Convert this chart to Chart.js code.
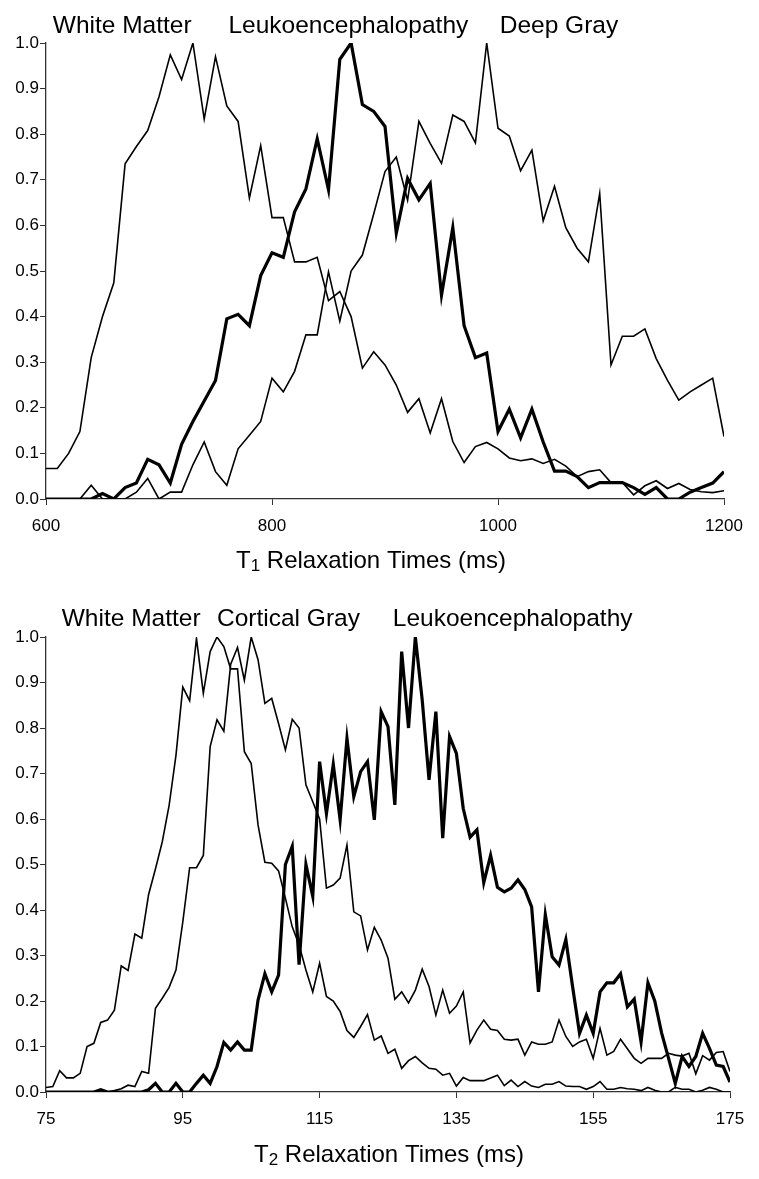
<!DOCTYPE html>
<html>
<head>
<meta charset="utf-8">
<script src="https://cdn.jsdelivr.net/npm/chart.js@4.4.0/dist/chart.umd.min.js"></script>
<style>
  html, body { margin: 0; padding: 0; background: #fff; }
  .box { position: absolute; left: 0; width: 759px; }
  #t1box { top: 0; height: 590px; }
  #t2box { top: 590px; height: 589px; }
</style>
</head>
<body>
<div class="box" id="t1box"><canvas id="t1" width="759" height="590"></canvas></div>
<div class="box" id="t2box"><canvas id="t2" width="759" height="589"></canvas></div>
<script>
// T1 histograms (ms, normalised counts)
const t1Times = [600,610,620,630,640,650,660,670,680,690,
    700,710,720,730,740,750,760,770,780,790,
    800,810,820,830,840,850,860,870,880,890,
    900,910,920,930,940,950,960,970,980,990,
    1000,1010,1020,1030,1040,1050,1060,1070,1080,1090,
    1100,1110,1120,1130,1140,1150,1160,1170,1180,1190,1200];
const t1White = [0.067,0.067,0.10,0.148,0.31,0.40,0.474,0.735,0.773,0.808,
    0.882,0.974,0.92,1.0,0.833,0.97,0.862,0.828,0.66,0.775,
    0.617,0.617,0.52,0.52,0.53,0.435,0.455,0.40,0.287,0.323,
    0.294,0.25,0.19,0.22,0.145,0.22,0.126,0.08,0.115,0.124,
    0.11,0.09,0.084,0.088,0.078,0.087,0.072,0.049,0.06,0.064,
    0.036,0.036,0.009,0.029,0.04,0.023,0.034,0.021,0.016,0.014,0.018];
const t1Leuko = [0,0,0,0,0,0.012,0,0.025,0.035,0.087,
    0.075,0.035,0.12,0.17,0.215,0.26,0.395,0.405,0.38,0.49,
    0.54,0.53,0.63,0.68,0.79,0.678,0.964,1.0,0.865,0.85,
    0.817,0.583,0.703,0.656,0.692,0.447,0.595,0.38,0.31,0.32,
    0.148,0.197,0.134,0.197,0.125,0.061,0.061,0.049,0.025,0.036,
    0.036,0.036,0.025,0.01,0.025,0,0,0.015,0.025,0.035,0.06];
const t1Deep = [0,0,0,0,0.03,0,0,0,0.015,0.045,
    0,0.015,0.015,0.075,0.125,0.06,0.03,0.11,0.14,0.17,
    0.265,0.235,0.28,0.36,0.36,0.498,0.39,0.50,0.535,0.625,
    0.718,0.75,0.655,0.828,0.78,0.736,0.842,0.828,0.781,1.0,
    0.813,0.796,0.72,0.765,0.61,0.686,0.595,0.55,0.52,0.67,
    0.294,0.357,0.357,0.373,0.308,0.26,0.217,0.235,0.25,0.265,0.137];

// T2 histograms
const t2Times = [75,76,77,78,79,80,81,82,83,84,
    85,86,87,88,89,90,91,92,93,94,
    95,96,97,98,99,100,101,102,103,104,
    105,106,107,108,109,110,111,112,113,114,
    115,116,117,118,119,120,121,122,123,124,
    125,126,127,128,129,130,131,132,133,134,
    135,136,137,138,139,140,141,142,143,144,
    145,146,147,148,149,150,151,152,153,154,
    155,156,157,158,159,160,161,162,163,164,
    165,166,167,168,169,170,171,172,173,174,175];
const t2White = [0.01,0.012,0.047,0.031,0.031,0.041,0.10,0.107,0.153,0.158,
    0.18,0.277,0.267,0.347,0.338,0.434,0.49,0.55,0.63,0.74,
    0.89,0.86,0.997,0.876,0.968,1.0,0.979,0.93,0.93,0.748,
    0.722,0.587,0.505,0.503,0.486,0.426,0.363,0.323,0.268,0.22,
    0.283,0.21,0.2,0.177,0.135,0.12,0.144,0.17,0.114,0.123,
    0.085,0.094,0.052,0.069,0.078,0.064,0.052,0.05,0.037,0.041,
    0.013,0.032,0.025,0.025,0.025,0.031,0.037,0.014,0.026,0.012,
    0.023,0.013,0.01,0.017,0.017,0.023,0.013,0.012,0.012,0.006,
    0.012,0.023,0.006,0.006,0.01,0.007,0.006,0.003,0.01,0.004,
    0,0,0.01,0.006,0.006,0,0.004,0.01,0.006,0,0];
const t2Cortical = [0,0,0,0,0,0,0,0,0.005,0,
    0.003,0.007,0.015,0.012,0.045,0.041,0.184,0.206,0.23,0.268,
    0.374,0.493,0.493,0.52,0.759,0.818,0.793,0.94,0.977,0.905,
    1.0,0.95,0.854,0.865,0.81,0.752,0.819,0.8,0.675,0.638,
    0.6,0.448,0.455,0.47,0.543,0.396,0.387,0.312,0.362,0.334,
    0.294,0.204,0.22,0.196,0.224,0.27,0.232,0.169,0.224,0.173,
    0.189,0.22,0.108,0.136,0.158,0.138,0.135,0.116,0.114,0.116,
    0.081,0.11,0.105,0.105,0.11,0.158,0.122,0.1,0.11,0.116,
    0.074,0.14,0.081,0.089,0.116,0.095,0.074,0.063,0.074,0.074,
    0.074,0.085,0.081,0.079,0.085,0.04,0.08,0.07,0.087,0.089,0.045];
const t2Leuko = [0,0,0,0,0,0,0,0,0.005,0,
    0,0,0,0,0,0.005,0.019,0,0,0.019,
    0,0,0.019,0.037,0.019,0.056,0.109,0.092,0.11,0.092,
    0.092,0.202,0.26,0.22,0.257,0.5,0.54,0.28,0.5,0.43,
    0.726,0.612,0.72,0.598,0.777,0.649,0.704,0.726,0.598,0.836,
    0.803,0.631,0.968,0.8,1.0,0.862,0.686,0.836,0.558,0.781,
    0.744,0.623,0.56,0.576,0.46,0.52,0.45,0.44,0.448,0.466,
    0.445,0.407,0.22,0.39,0.297,0.279,0.335,0.23,0.129,0.169,
    0.129,0.22,0.24,0.24,0.26,0.187,0.204,0.11,0.24,0.2,
    0.13,0.075,0.019,0.078,0.056,0.078,0.129,0.096,0.059,0.056,0.022];

const yTicks = [0,0.1,0.2,0.3,0.4,0.5,0.6,0.7,0.8,0.9,1.0];
const t1Ticks = [600,800,1000,1200];
const t2Ticks = [75,95,115,135,155,175];

const FONT = '"Liberation Sans", Arial, Helvetica, sans-serif';

const textPlugin = {
    id: "texts",
    afterDraw(chart, args, opts) {
        const ctx = chart.ctx;
        const xs = chart.scales.x;
        const area = chart.chartArea;
        ctx.save();
        ctx.fillStyle = "#000";
        ctx.textAlign = "left";
        ctx.textBaseline = "alphabetic";
        ctx.font = "24.5px " + FONT;
        opts.names.forEach((name, i) => {
            ctx.fillText(name, xs.getPixelForValue(opts.at[i]), area.top - opts.gap);
        });
        // axis title with a subscript
        const rest = " Relaxation Times (ms)";
        ctx.font = "24px " + FONT;
        const wT = ctx.measureText("T").width;
        const wRest = ctx.measureText(rest).width;
        ctx.font = "17px " + FONT;
        const wSub = ctx.measureText(opts.sub).width;
        let x = opts.titleX - (wT + wSub + wRest) / 2;
        const y = area.bottom + opts.titleGap;
        ctx.font = "24px " + FONT;
        ctx.fillText("T", x, y);
        x += wT;
        ctx.font = "17px " + FONT;
        ctx.fillText(opts.sub, x, y + 3);
        x += wSub;
        ctx.font = "24px " + FONT;
        ctx.fillText(rest, x, y);
        ctx.restore();
    }
};

function lineSet(label, times, values, width) {
    return {
        label: label,
        data: times.map((t, i) => ({ x: t, y: values[i] })),
        borderColor: "#000",
        borderWidth: width,
        pointRadius: 0,
        tension: 0,
        fill: false
    };
}

function axisStyle() {
    return {
        grid: { display: true, drawOnChartArea: false, drawTicks: true, tickLength: 6, color: "#333", lineWidth: 1 },
        border: { display: true, color: "#333", width: 1.3 }
    };
}

function makeChart(id, datasets, xMin, xMax, xTicks, texts, pad, xHeight) {
    return new Chart(document.getElementById(id), {
        type: "line",
        data: { datasets: datasets },
        options: {
            responsive: false,
            animation: false,
            layout: { padding: pad },
            plugins: { legend: { display: false }, tooltip: { enabled: false }, texts: texts },
            scales: {
                x: Object.assign({
                    type: "linear",
                    min: xMin,
                    max: xMax,
                    afterBuildTicks: s => { s.ticks = xTicks.map(v => ({ value: v })); },
                    afterFit: s => { s.height = xHeight; },
                    ticks: { color: "#000", font: { size: 17, family: FONT }, padding: 11, autoSkip: false, maxRotation: 0,
                        callback: v => String(v) }
                }, axisStyle()),
                y: Object.assign({
                    min: 0,
                    max: 1,
                    afterBuildTicks: s => { s.ticks = yTicks.map(v => ({ value: v })); },
                    afterFit: s => { s.width = 46; },
                    ticks: { color: "#000", font: { size: 17, family: FONT }, padding: 1, callback: v => v.toFixed(1) }
                }, axisStyle())
            }
        },
        plugins: [textPlugin]
    });
}

makeChart("t1", [
    lineSet("White Matter", t1Times, t1White, 1.6),
    lineSet("Leukoencephalopathy", t1Times, t1Leuko, 3.2),
    lineSet("Deep Gray", t1Times, t1Deep, 1.6)
], 600, 1200, t1Ticks, {
    names: ["White Matter", "Leukoencephalopathy", "Deep Gray"],
    at: [606, 761.5, 1001.5],
    gap: 10,
    sub: "1",
    titleX: 371,
    titleGap: 69
}, { top: 43, right: 35, left: 0, bottom: 0 }, 91);

makeChart("t2", [
    lineSet("White Matter", t2Times, t2White, 1.6),
    lineSet("Cortical Gray", t2Times, t2Cortical, 1.6),
    lineSet("Leukoencephalopathy", t2Times, t2Leuko, 3.2)
], 75, 175, t2Ticks, {
    names: ["White Matter", "Cortical Gray", "Leukoencephalopathy"],
    at: [77.3, 100, 125.7],
    gap: 11,
    sub: "2",
    titleX: 389,
    titleGap: 70
}, { top: 47, right: 29, left: 0, bottom: 0 }, 87);
</script>
</body>
</html>
